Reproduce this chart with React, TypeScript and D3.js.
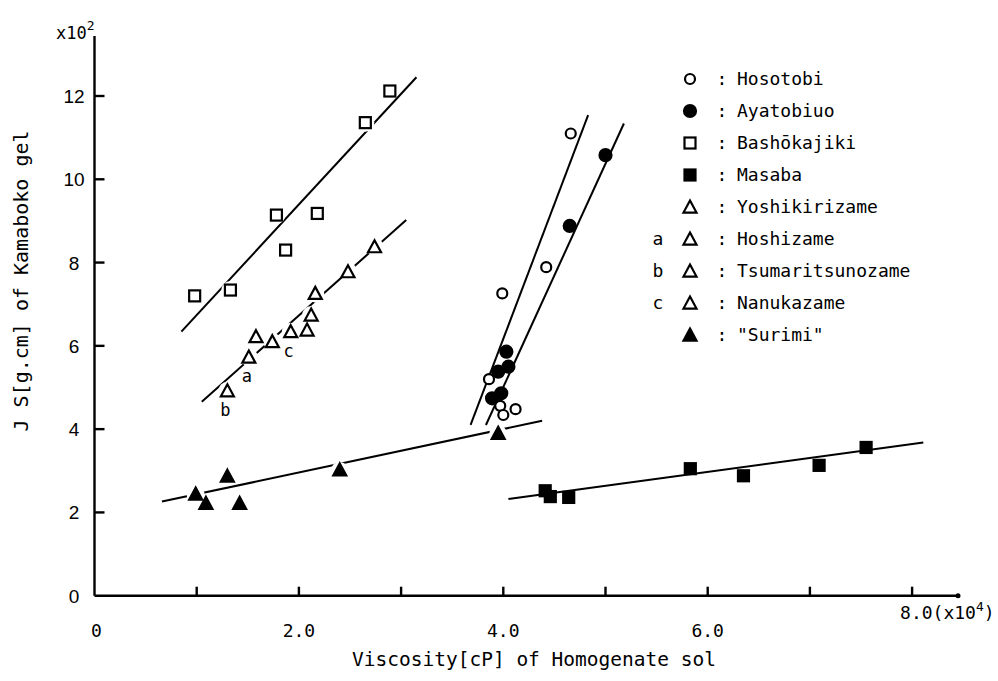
import React, { useEffect, useRef } from "react";
import * as d3 from "d3";

// values (x in 10^4 cP, y in 10^2 g.cm)
const hosotobiX = [4.66, 4.42, 3.99, 3.86, 3.97, 4.0, 4.12];
const hosotobiY = [11.1, 7.89, 7.26, 5.2, 4.56, 4.34, 4.48];
const ayatobiuoX = [5.0, 4.65, 4.03, 4.05, 3.95, 3.89, 3.98];
const ayatobiuoY = [10.58, 8.88, 5.86, 5.5, 5.38, 4.74, 4.86];
const bashoX = [0.98, 1.33, 1.78, 1.87, 2.18, 2.65, 2.89];
const bashoY = [7.2, 7.34, 9.14, 8.3, 9.18, 11.36, 12.12];
const masabaX = [4.41, 4.46, 4.64, 5.83, 6.35, 7.09, 7.55];
const masabaY = [2.52, 2.38, 2.36, 3.05, 2.88, 3.13, 3.56];
const sharkX = [1.3, 1.51, 1.58, 1.74, 1.92, 2.08, 2.12, 2.16, 2.48, 2.74];
const sharkY = [4.92, 5.73, 6.22, 6.1, 6.34, 6.38, 6.74, 7.26, 7.78, 8.38];
const sharkTag = ["b", "a", "", "", "c", "", "", "", "", ""];
const surimiX = [0.99, 1.09, 1.3, 1.42, 2.4, 3.95];
const surimiY = [2.44, 2.22, 2.87, 2.22, 3.02, 3.9];

// fitted lines: [x1, y1, x2, y2]
const fitLines = [
  [0.85, 6.34, 3.15, 12.45],
  [1.05, 4.66, 3.05, 9.02],
  [0.66, 2.26, 4.38, 4.2],
  [4.05, 2.32, 8.11, 3.68],
  [3.68, 4.1, 4.83, 11.54],
  [3.83, 4.1, 5.18, 11.34]
];

const legendNames = [
  "Hosotobi",
  "Ayatobiuo",
  "Bashōkajiki",
  "Masaba",
  "Yoshikirizame",
  "Hoshizame",
  "Tsumaritsunozame",
  "Nanukazame",
  "\"Surimi\""
];
const legendShapes = ["oc", "fc", "os", "fs", "ot", "ot", "ot", "ot", "ft"];
const legendTags = ["", "", "", "", "", "a", "b", "c", ""];

const xTicks = [1, 2, 3, 4, 5, 6, 7, 8];
const xTickValues = [0, 2, 4, 6];
const xTickLabels = ["0", "2.0", "4.0", "6.0"];
const yTicks = [0, 2, 4, 6, 8, 10, 12];

const mono = "'DejaVu Sans Mono', monospace";

function marker(g: any, shape: string, x: number, y: number) {
  const open = shape[0] === "o";
  const fill = open ? "#fff" : "#000";
  let el;
  if (shape[1] === "c") {
    el = g.append("circle").attr("cx", x).attr("cy", y).attr("r", open ? 5 : 6);
  } else if (shape[1] === "s") {
    el = g.append("rect").attr("x", x - 5.5).attr("y", y - 5.5).attr("width", 11).attr("height", 11);
  } else {
    const s = 13;
    const h = s * 0.85;
    el = g
      .append("path")
      .attr("d", `M${x},${y - h / 2 - 1}L${x + s / 2},${y + h / 2}L${x - s / 2},${y + h / 2}Z`);
  }
  el.attr("fill", fill).attr("stroke", "#000").attr("stroke-width", 2.2);
}

function halo(g: any, x: number, y: number) {
  g.append("circle").attr("cx", x).attr("cy", y).attr("r", 9).attr("fill", "#fff");
}

export default function App() {
  const ref = useRef<SVGSVGElement>(null);

  useEffect(() => {
    const svg = d3.select(ref.current);
    svg.selectAll("*").remove();

    const x = d3.scaleLinear().domain([0, 8]).range([94.5, 912.1]);
    const y = d3.scaleLinear().domain([0, 12]).range([595.7, 96]);

    // fitted lines
    svg
      .append("g")
      .selectAll("line")
      .data(fitLines)
      .join("line")
      .attr("x1", d => x(d[0]))
      .attr("y1", d => y(d[1]))
      .attr("x2", d => x(d[2]))
      .attr("y2", d => y(d[3]))
      .attr("stroke", "#000")
      .attr("stroke-width", 2);

    // white gaps around open markers and surimi triangles
    const gaps = svg.append("g");
    bashoX.forEach((v, i) => halo(gaps, x(v), y(bashoY[i])));
    sharkX.forEach((v, i) => halo(gaps, x(v), y(sharkY[i])));
    surimiX.forEach((v, i) => halo(gaps, x(v), y(surimiY[i]) + 1));

    const pts = svg.append("g");
    hosotobiX.forEach((v, i) => marker(pts, "oc", x(v), y(hosotobiY[i])));
    ayatobiuoX.forEach((v, i) => marker(pts, "fc", x(v), y(ayatobiuoY[i])));
    bashoX.forEach((v, i) => marker(pts, "os", x(v), y(bashoY[i])));
    masabaX.forEach((v, i) => marker(pts, "fs", x(v), y(masabaY[i])));
    sharkX.forEach((v, i) => marker(pts, "ot", x(v), y(sharkY[i])));
    surimiX.forEach((v, i) => marker(pts, "ft", x(v), y(surimiY[i])));

    pts
      .selectAll("text.tag")
      .data(sharkTag.map((t, i) => ({ t, i })).filter(d => d.t))
      .join("text")
      .attr("class", "tag")
      .attr("x", d => x(sharkX[d.i]) - 2)
      .attr("y", d => y(sharkY[d.i]) + 25)
      .attr("text-anchor", "middle")
      .attr("font-family", mono)
      .attr("font-size", 17)
      .text(d => d.t);

    // axes
    const ax = svg.append("g").attr("stroke", "#000").attr("stroke-width", 2.4);
    ax.append("line").attr("x1", x(0)).attr("x2", x(0)).attr("y1", 36).attr("y2", y(0));
    ax.append("line").attr("x1", x(0)).attr("x2", 958).attr("y1", y(0)).attr("y2", y(0));
    svg.append("circle").attr("cx", 958).attr("cy", y(0)).attr("r", 2.5).attr("fill", "#000");

    ax.selectAll("line.xt")
      .data(xTicks)
      .join("line")
      .attr("class", "xt")
      .attr("x1", d => x(d))
      .attr("x2", d => x(d))
      .attr("y1", y(0))
      .attr("y2", y(0) - 9);

    ax.selectAll("line.yt")
      .data(yTicks.slice(1))
      .join("line")
      .attr("class", "yt")
      .attr("x1", x(0))
      .attr("x2", x(0) + 10)
      .attr("y1", d => y(d))
      .attr("y2", d => y(d));

    svg
      .append("g")
      .selectAll("text")
      .data(yTicks)
      .join("text")
      .attr("x", 74)
      .attr("y", d => y(d) + 7)
      .attr("text-anchor", "middle")
      .attr("font-family", "'Liberation Sans', sans-serif")
      .attr("font-size", 19)
      .text(d => d);

    svg
      .append("g")
      .selectAll("text")
      .data(xTickLabels)
      .join("text")
      .attr("x", (d, i) => x(xTickValues[i]) + (i === 0 ? 2 : 0))
      .attr("y", 637)
      .attr("text-anchor", "middle")
      .attr("font-family", mono)
      .attr("font-size", 18)
      .text(d => d);

    // last tick label sits higher, with the exponent
    const xe = svg
      .append("text")
      .attr("x", x(8) - 12)
      .attr("y", 619)
      .attr("font-family", mono)
      .attr("font-size", 18);
    xe.append("tspan").text("8.0(x10");
    xe.append("tspan").attr("dy", -8).attr("font-size", 13).text("4");
    xe.append("tspan").attr("dy", 8).text(")");

    const ye = svg
      .append("text")
      .attr("x", 56)
      .attr("y", 39)
      .attr("font-family", mono)
      .attr("font-size", 17);
    ye.append("tspan").text("x10");
    ye.append("tspan").attr("dy", -9).attr("font-size", 13).text("2");

    svg
      .append("text")
      .attr("x", 534)
      .attr("y", 666)
      .attr("text-anchor", "middle")
      .attr("font-family", mono)
      .attr("font-size", 19.5)
      .text("Viscosity[cP] of Homogenate sol");

    svg
      .append("text")
      .attr("transform", "translate(28,281) rotate(-90)")
      .attr("text-anchor", "middle")
      .attr("font-family", mono)
      .attr("font-size", 20)
      .text("J S[g.cm] of Kamaboko gel");

    // legend
    const lg = svg
      .append("g")
      .selectAll("g")
      .data(legendNames)
      .join("g")
      .attr("transform", (d, i) => `translate(0,${79 + i * 32})`);
    lg.each(function (d, i) {
      marker(d3.select(this), legendShapes[i], 690, 0);
    });
    lg.append("text")
      .attr("x", 658)
      .attr("y", 6)
      .attr("text-anchor", "middle")
      .attr("font-family", mono)
      .attr("font-size", 18)
      .text((d, i) => legendTags[i]);
    lg.append("text")
      .attr("x", 722)
      .attr("y", 6)
      .attr("text-anchor", "middle")
      .attr("font-family", mono)
      .attr("font-size", 18)
      .text(":");
    lg.append("text")
      .attr("x", 737)
      .attr("y", 6)
      .attr("font-family", mono)
      .attr("font-size", 18)
      .text(d => d);
  }, []);

  return (
    <svg
      ref={ref}
      width={998}
      height={681}
      style={{ position: "absolute", left: 0, top: 0, background: "#fff" }}
    />
  );
}
